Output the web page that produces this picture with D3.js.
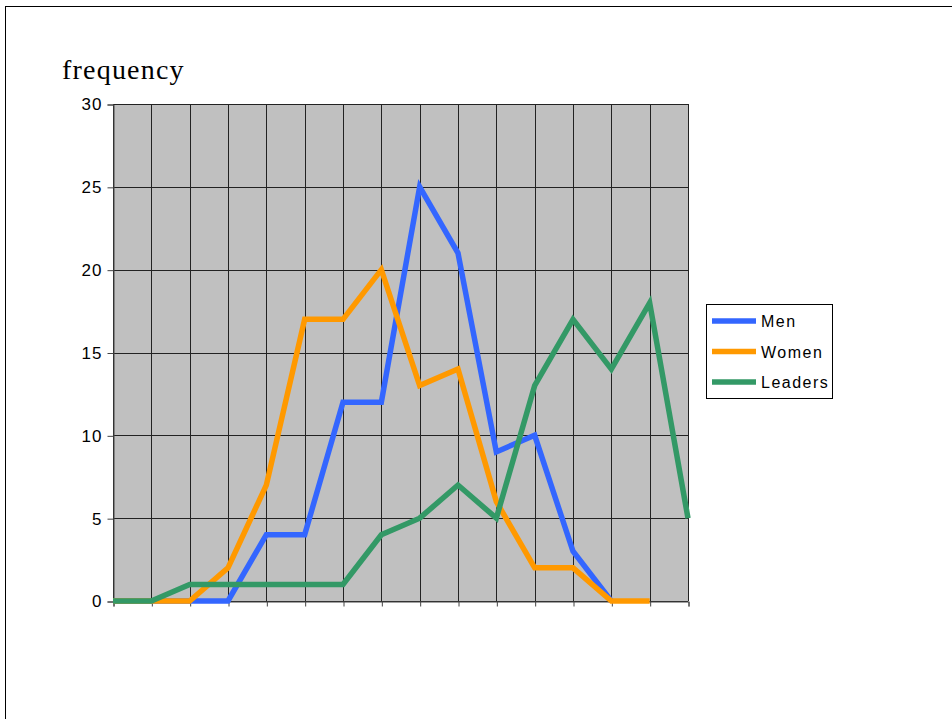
<!DOCTYPE html>
<html lang="en">
<head>
	<meta charset="UTF-8">
	<title>frequency</title>
	<style>
		body { margin: 0; background: #fff; }
	</style>
</head>
<body>
	<svg width="952" height="719"></svg>

	<script src="https://d3js.org/d3.v7.min.js"></script>
	<script>
		// data, one value per grid column
		var categories = d3.range(16);
		var men     = [0, 0, 0, 0, 4, 4, 12, 12, 25, 21, 9, 10, 3, 0, null, null];
		var women   = [0, 0, 0, 2, 7, 17, 17, 20, 13, 14, 6, 2, 2, 0, 0, null];
		var leaders = [0, 0, 1, 1, 1, 1, 1, 4, 5, 7, 5, 13, 17, 14, 18, 5];
		var yTicks  = [0, 5, 10, 15, 20, 25, 30];

		var seriesNames  = ["Men", "Women", "Leaders"];
		var seriesColors = ["#3366ff", "#ff9900", "#339966"];
		var seriesData   = [men, women, leaders];

		var svg = d3.select("svg");

		// page frame
		svg.append("rect")
			.attr("x", 5.5).attr("y", 6.5)
			.attr("width", 960).attr("height", 720)
			.attr("fill", "none").attr("stroke", "#000").attr("stroke-width", 1);

		var plot = {left: 113, right: 688, top: 104, bottom: 601};

		var x = d3.scaleLinear()
			.domain([0, categories.length - 1])
			.range([plot.left, plot.right]);
		var y = d3.scaleLinear()
			.domain([0, 30])
			.range([plot.bottom, plot.top]);

		// gray plot area
		svg.append("rect")
			.attr("x", plot.left).attr("y", plot.top)
			.attr("width", plot.right - plot.left)
			.attr("height", plot.bottom - plot.top)
			.attr("fill", "#c0c0c0");

		// grid
		var grid = svg.append("g").attr("stroke", "#222").attr("stroke-width", 1);
		grid.selectAll(".vg").data(categories).enter().append("line")
			.attr("x1", function(d){ return Math.round(x(d)) + 0.5; })
			.attr("x2", function(d){ return Math.round(x(d)) + 0.5; })
			.attr("y1", plot.top).attr("y2", plot.bottom);
		grid.selectAll(".hg").data(yTicks).enter().append("line")
			.attr("x1", plot.left).attr("x2", plot.right)
			.attr("y1", function(d){ return Math.round(y(d)) + 0.5; })
			.attr("y2", function(d){ return Math.round(y(d)) + 0.5; });

		// axes
		var yAxis = d3.axisLeft(y).tickValues(yTicks).tickSize(6).tickPadding(5);
		var gy = svg.append("g")
			.attr("transform", "translate(" + (plot.left + 0.5) + ",0.5)")
			.call(yAxis);
		gy.select(".domain").attr("stroke", "#444");
		gy.selectAll(".tick line").attr("stroke", "#444");
		gy.selectAll("text")
			.style("font-family", "Liberation Sans, Arial, sans-serif")
			.style("font-size", "17px")
			.style("letter-spacing", "1px")
			.attr("fill", "#000");

		var xAxis = d3.axisBottom(x).tickValues(categories).tickSize(5).tickFormat("");
		var gx = svg.append("g")
			.attr("transform", "translate(0.5," + (plot.bottom + 0.5) + ")")
			.call(xAxis);
		gx.select(".domain").attr("stroke", "#444");
		gx.selectAll(".tick line").attr("stroke", "#444");

		// lines
		var line = d3.line()
			.defined(function(d){ return d != null; })
			.x(function(d, i){ return x(categories[i]); })
			.y(function(d){ return y(d); });

		svg.selectAll(".series").data(seriesData).enter().append("path")
			.attr("d", line)
			.attr("fill", "none")
			.attr("stroke", function(d, i){ return seriesColors[i]; })
			.attr("stroke-width", 5.5)
			.attr("stroke-linejoin", "miter");

		// title
		svg.append("text")
			.attr("x", 62).attr("y", 79)
			.style("font-family", "Liberation Serif, Times New Roman, serif")
			.style("font-size", "28px")
			.style("letter-spacing", "1.2px")
			.text("frequency");

		// legend
		var legend = svg.append("g").attr("transform", "translate(706,304)");
		legend.append("rect")
			.attr("x", 0.5).attr("y", 0.5)
			.attr("width", 126).attr("height", 94)
			.attr("fill", "#fff").attr("stroke", "#000");
		var items = legend.selectAll(".item").data(seriesNames).enter().append("g")
			.attr("transform", function(d, i){ return "translate(0," + (17 + i * 30.5) + ")"; });
		items.append("line")
			.attr("x1", 6).attr("x2", 50)
			.attr("stroke", function(d, i){ return seriesColors[i]; })
			.attr("stroke-width", 5.5);
		items.append("text")
			.attr("x", 55).attr("y", 6)
			.style("font-family", "Liberation Sans, Arial, sans-serif")
			.style("font-size", "16px")
			.style("letter-spacing", "1.5px")
			.text(function(d){ return d; });
	</script>
</body>
</html>
